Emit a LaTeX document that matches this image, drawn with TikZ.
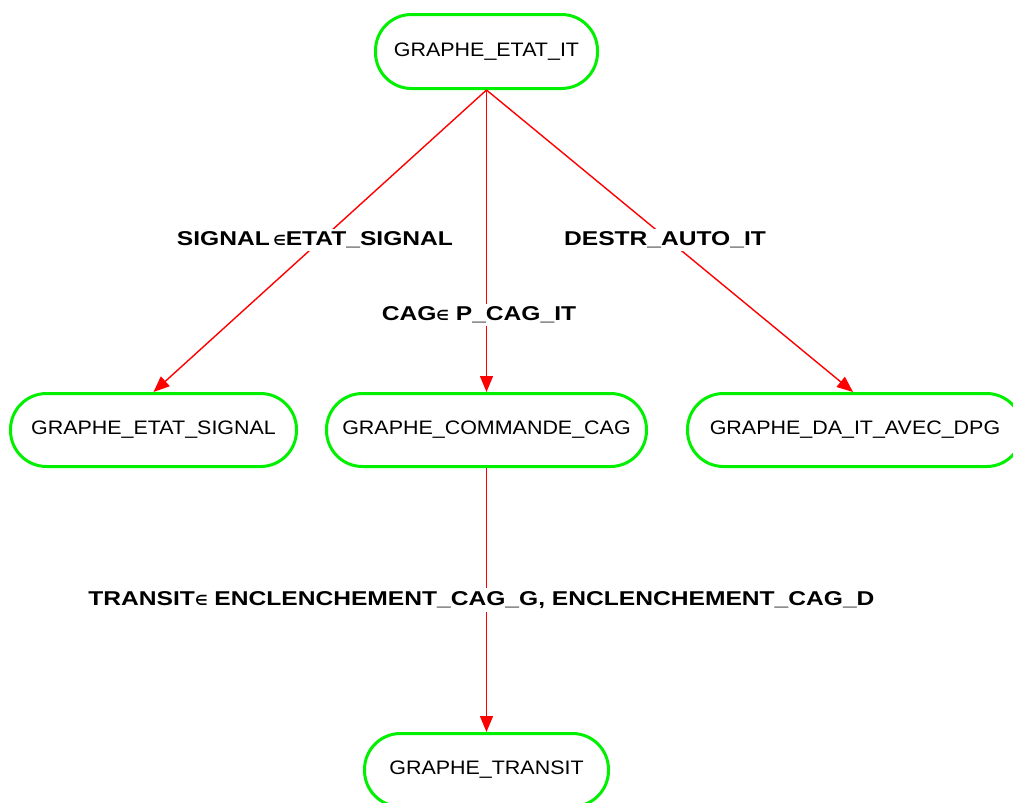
\documentclass[tikz,border=0pt]{standalone}
\usepackage{fontspec}
\usetikzlibrary{arrows.meta}
\newfontfamily\nodefont[FakeStretch=1.1]{Liberation Sans}
\newfontfamily\lblfont[FakeStretch=1.23]{Liberation Sans}
\newfontfamily\symfont{DejaVu Sans}
\newcommand{\elem}{{\symfont\fontsize{14}{14}\selectfont ∈}}
\definecolor{boxgreen}{RGB}{0,240,0}
\definecolor{edgered}{RGB}{255,0,0}
\tikzset{
  state/.style={draw=boxgreen, line width=3pt, fill=white, rounded corners=36pt,
    inner sep=0pt, font=\nodefont\fontsize{19.5}{22}\selectfont, text=black},
  edge/.style={draw=edgered, line width=1.4pt, -{Triangle[length=16pt,width=13pt]}},
  lbl/.style={fill=white, inner sep=3pt, font=\lblfont\bfseries\fontsize{20}{22}\selectfont, text=black}
}
\begin{document}
\begin{tikzpicture}[x=1pt,y=-1pt]
\useasboundingbox (0,0) rectangle (1013,803);
\clip (0,0) rectangle (1013,803);

% states
\node[state, minimum width=222pt, minimum height=74pt] (it) at (486.5,51.5) {GRAPHE\_ETAT\_IT};
\node[state, minimum width=286pt, minimum height=73pt] (sig) at (153.5,430) {GRAPHE\_ETAT\_SIGNAL};
\node[state, minimum width=320pt, minimum height=73pt] (cag) at (486.5,430) {GRAPHE\_COMMANDE\_CAG};
\node[state, minimum width=335pt, minimum height=73pt] (da) at (855,430) {GRAPHE\_DA\_IT\_AVEC\_DPG};
\node[state, minimum width=244pt, minimum height=73pt] (tr) at (486.5,770) {GRAPHE\_TRANSIT};

% transitions
\draw[edge] (it.south) -- (sig.north);
\draw[edge] (it.south) -- (cag.north);
\draw[edge] (it.south) -- ([xshift=-2pt]da.north);
\draw[edge] (cag.south) -- (tr.north);

% transition guards
\node[lbl] (l1) at (315,240) {SIGNAL\,\elem ETAT\_SIGNAL};
\node[lbl] (l2) at (479,315) {CAG\elem\ P\_CAG\_IT};
\node[lbl] (l3) at (665,240) {DESTR\_AUTO\_IT};
\node[lbl] (l4) at (481.5,600) {TRANSIT\elem\ ENCLENCHEMENT\_CAG\_G, ENCLENCHEMENT\_CAG\_D};
\end{tikzpicture}
\end{document}
